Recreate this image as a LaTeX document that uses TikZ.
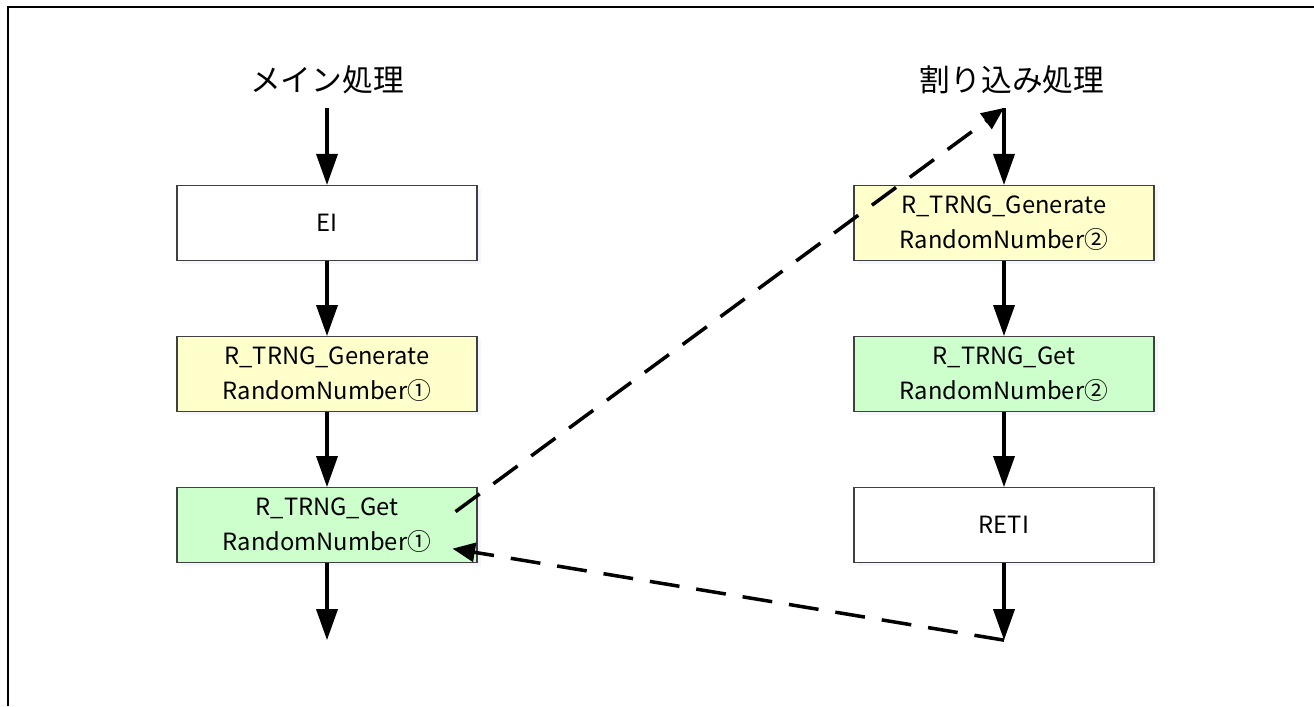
\documentclass[tikz,border=0pt]{standalone}
\usepackage{fontspec}
\setmainfont{Noto Sans CJK JP}
\usetikzlibrary{positioning,arrows.meta,shadows}

\definecolor{genyellow}{HTML}{FFFFCC}
\definecolor{getgreen}{HTML}{CCFFCC}

\begin{document}
\begin{tikzpicture}[
  box/.style={draw=black!75, line width=0.6pt, minimum width=6cm, minimum height=1.5cm,
    align=center, font=\fontsize{13.5}{20}\selectfont,
    drop shadow={shadow xshift=0.07cm, shadow yshift=-0.07cm, opacity=0.2, fill=blue!20}},
  plain/.style={box, fill=white},
  gen/.style={box, fill=genyellow},
  get/.style={box, fill=getgreen},
  flow/.style={-{Triangle[length=0.62cm,width=0.42cm]}, line width=2pt},
  jump/.style={-{Triangle[length=0.45cm,width=0.38cm]}, line width=2pt,
    dash pattern=on 0.6cm off 0.34cm},
  title/.style={font=\fontsize{17.5}{20}\selectfont},
  node distance=1.5cm]
  \useasboundingbox (0,0) rectangle (26.28,-14.12);
  \draw[line width=1.1pt] (0.16,-14.12) -- (0.16,-0.14) -- (26.28,-0.14);

  % main flow
  \node[title] (mainT) at (6.54,-1.6) {メイン処理};
  \coordinate (mtop) at (6.54,-2.16);
  \node[plain] (ei)   [below=1.54cm of mtop] {EI};
  \node[gen]   (gen1) [below=of ei]   {R\_TRNG\_Generate\\RandomNumber①};
  \node[get]   (get1) [below=of gen1] {R\_TRNG\_Get\\RandomNumber①};
  \coordinate[below=1.54cm of get1] (mend);

  % interrupt flow
  \node[title] (intT) at (20.24,-1.6) {割り込み処理};
  \coordinate (itop) at (20.08,-2.16);
  \node[gen]   (gen2) [below=1.54cm of itop] {R\_TRNG\_Generate\\RandomNumber②};
  \node[get]   (get2) [below=of gen2] {R\_TRNG\_Get\\RandomNumber②};
  \node[plain] (reti) [below=of get2] {RETI};
  \coordinate[below=1.54cm of reti] (iend);

  \coordinate (call) at ([xshift=-0.44cm,yshift=0.27cm]get1.east);
  \coordinate (back) at ([xshift=-0.5cm,yshift=-0.47cm]get1.east);

  \draw[flow] (mtop) -- (ei);
  \draw[flow] (ei) -- (gen1);
  \draw[flow] (gen1) -- (get1);
  \draw[flow] (get1) -- (mend);
  \draw[flow] (itop) -- (gen2);
  \draw[flow] (gen2) -- (get2);
  \draw[flow] (get2) -- (reti);
  \draw[flow] (reti) -- (iend);

  \draw[jump] (call) -- (itop);
  \draw[jump] (iend) -- (back);
\end{tikzpicture}
\end{document}
